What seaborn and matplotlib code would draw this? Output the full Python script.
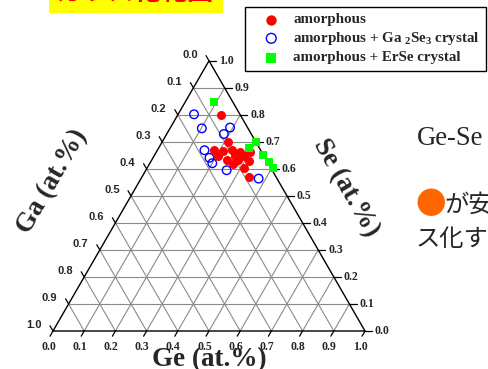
import matplotlib
matplotlib.use('Agg')
import matplotlib.pyplot as plt
from matplotlib.patches import Rectangle
import numpy as np
import seaborn as sns

# compositions (atomic fractions, Ga = 1 - Ge - Se)
amor_ge = [0.14, 0.21, 0.18, 0.21, 0.24, 0.267, 0.30, 0.207, 0.24, 0.26, 0.29, 0.313, 0.268, 0.312, 0.343, 0.275]
amor_se = [0.80, 0.70, 0.67, 0.667, 0.67, 0.664, 0.664, 0.646, 0.633, 0.646, 0.646, 0.63, 0.617, 0.603, 0.569, 0.633]
ga2se3_ge = [0.051, 0.102, 0.191, 0.183, 0.151, 0.181, 0.200, 0.259, 0.377]
ga2se3_se = [0.802, 0.75, 0.753, 0.729, 0.669, 0.641, 0.621, 0.595, 0.564]
erse_ge = [0.092, 0.30, 0.29, 0.348, 0.38, 0.405]
erse_se = [0.848, 0.70, 0.679, 0.652, 0.627, 0.603]

ticks = [0.0, 0.1, 0.2, 0.3, 0.4, 0.5, 0.6, 0.7, 0.8, 0.9, 1.0]
tick_labels = ['0.0', '0.1', '0.2', '0.3', '0.4', '0.5', '0.6', '0.7', '0.8', '0.9', '1.0']

sns.set_style('white')
plt.rcParams['mathtext.fontset'] = 'custom'
plt.rcParams['mathtext.rm'] = 'Liberation Serif:bold'
plt.rcParams['mathtext.bf'] = 'Liberation Serif:bold'
plt.rcParams['mathtext.it'] = 'Liberation Serif:bold'

H = np.sqrt(3) / 2
W, HH = 489, 369
side = 312.0        # triangle side in px
x0, base = 53, 331  # bottom-left vertex in px

def tern(ge, se):
	ge = np.asarray(ge, dtype=float)
	se = np.asarray(se, dtype=float)
	return ge + se / 2, se * H

def px(p):
	# pixels to points (dpi 100)
	return p * 72 / 100

fig = plt.figure(figsize=(W / 100, HH / 100), dpi=100)
ax = fig.add_axes([0, 0, 1, 1])
ax.set_xlim(-x0 / side, (W - x0) / side)
ax.set_ylim((base - HH) / side, base / side)
ax.set_axis_off()

# grid
for v in ticks[1:-1]:
	for a, b in [((0, v), (1 - v, v)), ((v, 0), (v, 1 - v)), ((1 - v, 0), (0, 1 - v))]:
		xs, ys = tern([a[0], b[0]], [a[1], b[1]])
		ax.plot(xs, ys, color='#8a8a8a', lw=0.8, zorder=1)

# edges
xs, ys = tern([0, 1, 0, 0], [0, 0, 1, 0])
ax.plot(xs, ys, color='black', lw=1.0, zorder=2)

tl = 6 / side
for v, lab in zip(ticks, tick_labels):
	# Se axis (right)
	ex, ey = tern(1 - v, v)
	ax.plot([ex, ex + tl * 1.2], [ey, ey], color='black', lw=0.9)
	ax.annotate(lab, (ex, ey), xytext=(px(10), 0), textcoords='offset points',
				ha='left', va='center', fontsize=8.5, fontweight='bold', family='Liberation Serif')
	# Ga axis (left)
	ex, ey = tern(0, 1 - v)
	ax.plot([ex, ex - 0.5 * tl], [ey, ey + H * tl], color='black', lw=0.9)
	ax.annotate(lab, (ex, ey), xytext=(px(-19), px(6)), textcoords='offset points',
				ha='center', va='center', fontsize=8, fontweight='bold', family='Liberation Sans')
	# Ge axis (bottom)
	ex, ey = tern(v, 0)
	ax.plot([ex, ex - 0.5 * tl], [ey, ey - H * tl], color='black', lw=0.9)
	ax.annotate(lab, (ex, ey), xytext=(px(-4.5), px(-16)), textcoords='offset points',
				ha='center', va='center', fontsize=8.5, fontweight='bold', family='Liberation Serif')

# points
x, y = tern(amor_ge, amor_se)
sns.scatterplot(x=x, y=y, ax=ax, marker='o', s=42, color='#ff0000', edgecolor='#ff0000',
				linewidth=0, label='amorphous', zorder=4)
x, y = tern(ga2se3_ge, ga2se3_se)
sns.scatterplot(x=x, y=y, ax=ax, marker='o', s=38, facecolors='none', edgecolor='#0000ff',
				linewidth=1.0, label='amorphous + Ga $_2$Se$_3$ crystal', zorder=3)
x, y = tern(erse_ge, erse_se)
sns.scatterplot(x=x, y=y, ax=ax, marker='s', s=38, color='#00ff00', edgecolor='#00ff00',
				linewidth=0, label='amorphous + ErSe crystal', zorder=5)

leg = ax.legend(loc='upper left', bbox_to_anchor=(245 / W, 1 - 7 / HH), bbox_transform=fig.transFigure,
				borderaxespad=0, frameon=True, fancybox=False, framealpha=1, edgecolor='black',
				prop={'family': 'Liberation Serif', 'weight': 'bold', 'size': 10.8},
				handlelength=2.7, handletextpad=0.1, borderpad=0.4, labelspacing=0.25, markerscale=1.15)
leg.get_frame().set_linewidth(1.0)

# axis titles
fig.text(209 / W, 1 - 360 / HH, 'Ge (at.%)', fontsize=19.5, fontweight='bold',
		 family='Liberation Serif', ha='center', va='center')
fig.text(52 / W, 1 - 182 / HH, 'Ga (at.%)', fontsize=19.5, fontweight='bold',
		 family='Liberation Serif', ha='center', va='center', rotation=60)
fig.text(346 / W, 1 - 188 / HH, 'Se (at.%)', fontsize=19.5, fontweight='bold',
		 family='Liberation Serif', ha='center', va='center', rotation=-60)

# slide decorations around the chart
fig.patches.append(Rectangle((49 / W, 1 - 13 / HH), 174 / W, 13 / HH + 0.01, transform=fig.transFigure,
							 facecolor='#ffff00', edgecolor='none', zorder=0))
fig.text(134 / W, 1 - 0 / HH, 'ガラス化範囲', fontsize=19, fontweight='bold', color='#ff0000',
		 family=['Noto Sans CJK JP', 'DejaVu Sans'], ha='center', va='baseline')
fig.text(417 / W, 1 - 145 / HH, 'Ge-Se', fontsize=19.2, family='Liberation Serif',
		 ha='left', va='baseline')
fig.text(416 / W, 1 - 205 / HH, '●', fontsize=22, color='#ff6600',
		 family=['Noto Sans CJK JP', 'DejaVu Sans'], ha='left', va='center')
fig.text(444 / W, 1 - 206 / HH, 'が安定', fontsize=17.5,
		 family=['Noto Sans CJK JP', 'DejaVu Sans'], ha='left', va='center')
fig.text(416 / W, 1 - 239 / HH, 'ス化する', fontsize=17.5,
		 family=['Noto Sans CJK JP', 'DejaVu Sans'], ha='left', va='center')

plt.savefig('out.png', dpi=100)
